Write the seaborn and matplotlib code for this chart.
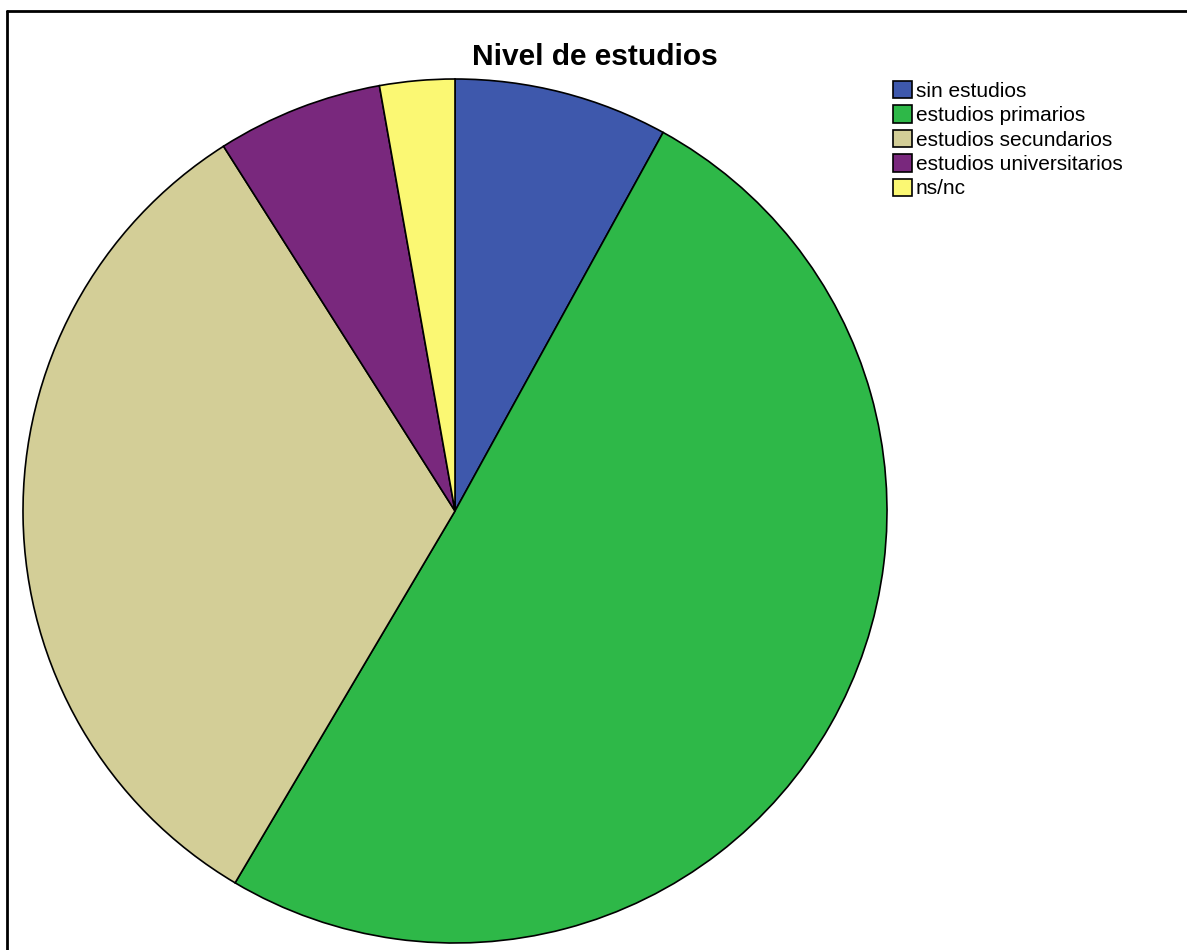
import matplotlib
matplotlib.use('Agg')
import matplotlib.pyplot as plt
import seaborn as sns
from matplotlib.lines import Line2D

# Data (percent of respondents)
categories = ['sin estudios', 'estudios primarios', 'estudios secundarios',
              'estudios universitarios', 'ns/nc']
shares = [8.0, 50.5, 32.5, 6.2, 2.8]
colors = ['#3E58AC', '#2EB848', '#D3CE97', '#79287D', '#FBF873']

sns.set_theme(style='white')
plt.rcParams['font.family'] = ['Liberation Sans', 'DejaVu Sans']

W, H = 1187, 950
fig = plt.figure(figsize=(W / 100, H / 100), dpi=100)
fig.patch.set_facecolor('white')

# pie centre (455, 511) px, radius 432 px
cx, cy, r = 455, 511, 432
ax = fig.add_axes([(cx - r) / W, (H - cy - r) / H, 2 * r / W, 2 * r / H])
wedges, _ = ax.pie(shares, colors=colors, startangle=90, counterclock=False,
                   wedgeprops={'edgecolor': 'black', 'linewidth': 1.2})
ax.set_xlim(-1, 1)
ax.set_ylim(-1, 1)
ax.set_aspect('equal')
ax.axis('off')

fig.text(595 / W, 1 - 57 / H, 'Nivel de estudios', ha='center', va='center',
         fontsize=21.5, fontweight='bold', color='black')

leg = fig.legend(wedges, categories, loc='upper left',
                 bbox_to_anchor=(893 / W, 1 - 81 / H), frameon=False,
                 fontsize=15, handlelength=0.9, handleheight=0.9,
                 handletextpad=0.2, labelspacing=0.22, borderpad=0,
                 borderaxespad=0)
for t in leg.get_texts():
    t.set_color('black')

# frame lines visible at top and left of the picture
fig.add_artist(Line2D([7 / W, 1], [1 - 11 / H, 1 - 11 / H], color='black',
                      linewidth=2, transform=fig.transFigure))
fig.add_artist(Line2D([7 / W, 7 / W], [0, 1 - 11 / H], color='black',
                      linewidth=2, transform=fig.transFigure))

fig.savefig('out.png', dpi=100, facecolor='white')
